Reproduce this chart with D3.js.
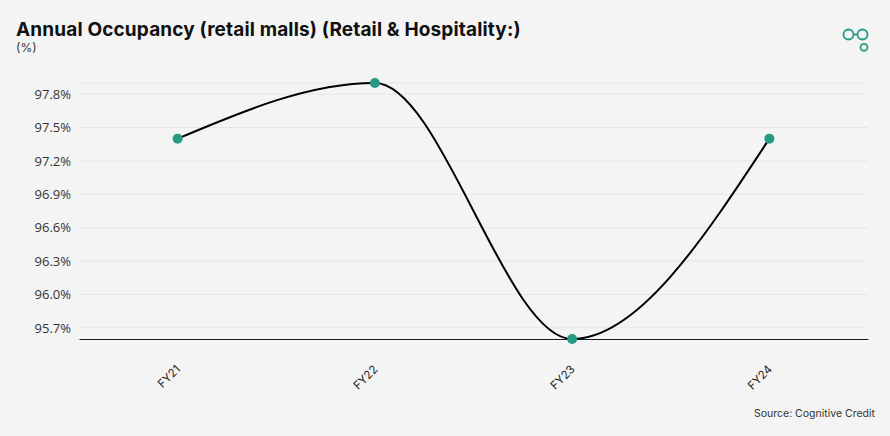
<!DOCTYPE html>
<html><head><meta charset="utf-8">
<script src="https://cdn.jsdelivr.net/npm/d3@7"></script>
<style>
html,body{margin:0;padding:0;background:#f4f4f4;}
svg{display:block;font-family:"Open Sans","Noto Sans",sans-serif;}
</style></head><body>
<svg id="c" width="890" height="436"></svg>
<script>
const categories = ["FY21","FY22","FY23","FY24"];
const occupancy = [97.4, 97.9, 95.6, 97.4];
const yTicks = [95.7, 96.0, 96.3, 96.6, 96.9, 97.2, 97.5, 97.8];
const titleText = "Annual Occupancy (retail malls) (Retail & Hospitality:)";
const unitText = "(%)";
const sourceText = "Source: Cognitive Credit";

(function(){
const svg = d3.select("#c");
svg.append("rect").attr("width",890).attr("height",436).attr("fill","#f4f4f4");

const mLeft = 79, mRight = 868, mTop = 83, mBottom = 339;
const x = d3.scalePoint().domain(categories).range([mLeft,mRight]).padding(0.5);
const y = d3.scaleLinear().domain([d3.min(occupancy), d3.max(occupancy)]).range([mBottom, mTop]);

// gridlines
const gridVals = yTicks.concat([d3.max(occupancy)]);
svg.append("g").selectAll("line").data(gridVals).join("line")
  .attr("x1",mLeft).attr("x2",mRight)
  .attr("y1",d=>y(d)).attr("y2",d=>y(d))
  .attr("stroke","#e6e6e6").attr("stroke-width",1);

// y axis
const yAxis = svg.append("g").attr("transform",`translate(${mLeft},0)`)
  .call(d3.axisLeft(y).tickValues(yTicks).tickFormat(d=>d.toFixed(1)+"%").tickSize(0).tickPadding(8));
yAxis.select(".domain").remove();
yAxis.selectAll("text").attr("font-size",13).attr("fill","#333").attr("font-family","'Open Sans',sans-serif");

// x axis
const xAxis = svg.append("g").attr("transform",`translate(0,${mBottom})`)
  .call(d3.axisBottom(x).tickSize(0).tickPadding(0));
xAxis.select(".domain").attr("stroke","#1a1a2e").attr("stroke-width",1.2);
xAxis.selectAll("text")
  .attr("font-size",11.5).attr("fill","#222").attr("font-family","Inter, sans-serif")
  .attr("text-anchor","end")
  .attr("dy",null)
  .attr("transform","translate(3,31) rotate(-45)");

// line
const line = d3.line().x((d,i)=>x(categories[i])).y(d=>y(d)).curve(d3.curveMonotoneX);
svg.append("path").datum(occupancy).attr("d",line)
  .attr("fill","none").attr("stroke","#000").attr("stroke-width",2);

svg.append("g").selectAll("circle").data(occupancy).join("circle")
  .attr("cx",(d,i)=>x(categories[i])).attr("cy",d=>y(d)).attr("r",5)
  .attr("fill","#259a86");

// title
svg.append("text").attr("x",16).attr("y",36).text(titleText)
  .attr("font-family","Inter, sans-serif").attr("letter-spacing",0.15)
  .attr("font-size",19).attr("font-weight",700).attr("fill","#111");
svg.append("text").attr("x",16).attr("y",52).text(unitText)
  .attr("font-family","Inter, sans-serif")
  .attr("font-size",12).attr("fill","#333");

// source
svg.append("text").attr("x",875).attr("y",417).attr("text-anchor","end").text(sourceText)
  .attr("font-family","Inter, sans-serif")
  .attr("font-size",10.5).attr("fill","#333");

// logo
const logo = svg.append("g").attr("fill","none").attr("stroke","#259a86").attr("stroke-width",1.8);
logo.append("circle").attr("cx",848.5).attr("cy",34.5).attr("r",5);
logo.append("circle").attr("cx",862.5).attr("cy",34.5).attr("r",5);
logo.append("line").attr("x1",853.5).attr("x2",857.5).attr("y1",34.5).attr("y2",34.5);
logo.append("circle").attr("cx",864).attr("cy",47.3).attr("r",3.5);
})();
</script>
</body></html>
